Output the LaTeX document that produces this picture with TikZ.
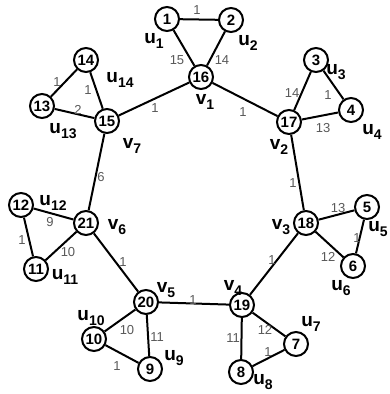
\documentclass[tikz,border=0pt]{standalone}
\usepackage{fontspec}
\setmainfont{Liberation Sans}
\newcommand\lbl[2]{#1\raisebox{-0.45ex}{\fontsize{14}{14}\selectfont #2}}
\begin{document}
\begin{tikzpicture}[x=1pt,y=-1pt,
  vtx/.style={circle,draw,fill=white,line width=2pt,minimum size=24pt,inner sep=0pt,font=\fontsize{15}{15}\selectfont\bfseries},
  edge/.style={line width=2pt},
  wt/.style={font=\fontsize{13}{13}\selectfont,text=black!65,inner sep=0pt},
  nm/.style={font=\fontsize{19}{19}\selectfont\bfseries,inner sep=0pt}]
\useasboundingbox (0,0) rectangle (390,394);
\fill[white] (0,0) rectangle (390,394);
% nodes
\node[vtx] (n1) at (167,19) {1};
\node[vtx] (n2) at (231,20) {2};
\node[vtx] (n16) at (201,77) {16};
\node[vtx] (n3) at (316,60) {3};
\node[vtx] (n4) at (351,110) {4};
\node[vtx] (n17) at (289,122) {17};
\node[vtx] (n14) at (86,60) {14};
\node[vtx] (n13) at (42,106) {13};
\node[vtx] (n15) at (107,121) {15};
\node[vtx] (n5) at (367,207) {5};
\node[vtx] (n18) at (306,223) {18};
\node[vtx] (n6) at (353,266) {6};
\node[vtx] (n12) at (21,205) {12};
\node[vtx] (n21) at (86,223) {21};
\node[vtx] (n11) at (36,269) {11};
\node[vtx] (n20) at (146,302) {20};
\node[vtx] (n10) at (94,339) {10};
\node[vtx] (n9) at (150,369) {9};
\node[vtx] (n19) at (242,305) {19};
\node[vtx] (n7) at (296,344) {7};
\node[vtx] (n8) at (241,372) {8};
% edges
\draw[edge] (n1)--(n2); \draw[edge] (n1)--(n16); \draw[edge] (n2)--(n16);
\draw[edge] (n3)--(n4); \draw[edge] (n3)--(n17); \draw[edge] (n4)--(n17);
\draw[edge] (n14)--(n13); \draw[edge] (n14)--(n15); \draw[edge] (n13)--(n15);
\draw[edge] (n5)--(n6); \draw[edge] (n5)--(n18); \draw[edge] (n6)--(n18);
\draw[edge] (n12)--(n11); \draw[edge] (n12)--(n21); \draw[edge] (n11)--(n21);
\draw[edge] (n10)--(n9); \draw[edge] (n10)--(n20); \draw[edge] (n9)--(n20);
\draw[edge] (n7)--(n8); \draw[edge] (n7)--(n19); \draw[edge] (n8)--(n19);
\draw[edge] (n16)--(n17); \draw[edge] (n17)--(n18); \draw[edge] (n18)--(n19);
\draw[edge] (n19)--(n20); \draw[edge] (n20)--(n21); \draw[edge] (n21)--(n15);
\draw[edge] (n15)--(n16);
% weights
\node[wt] (w1) at (197,10) {1};
\node[wt] (w2) at (177,60) {15};
\node[wt] (w3) at (222,60) {14};
\node[wt] (w4) at (155,108) {1};
\node[wt] (w5) at (243,112) {1};
\node[wt] (w6) at (292,93) {14};
\node[wt] (w7) at (328,95) {1};
\node[wt] (w8) at (323,128) {13};
\node[wt] (w9) at (57,82) {1};
\node[wt] (w10) at (88,90) {1};
\node[wt] (w11) at (78,110) {2};
\node[wt] (w12) at (101,177) {6};
\node[wt] (w13) at (293,183) {1};
\node[wt] (w14) at (338,208) {13};
\node[wt] (w15) at (357,238) {1};
\node[wt] (w16) at (328,257) {12};
\node[wt] (w17) at (50,222) {9};
\node[wt] (w18) at (22,240) {1};
\node[wt] (w19) at (68,252) {10};
\node[wt] (w20) at (123,262) {1};
\node[wt] (w21) at (127,330) {10};
\node[wt] (w22) at (157,337) {11};
\node[wt] (w23) at (117,366) {1};
\node[wt] (w24) at (193,300) {1};
\node[wt] (w25) at (272,260) {1};
\node[wt] (w26) at (265,330) {12};
\node[wt] (w27) at (233,338) {11};
\node[wt] (w28) at (268,352) {1};
% names
\node[nm] (l1) at (154,41) {\lbl{u}{1}};
\node[nm] (l2) at (248,43) {\lbl{u}{2}};
\node[nm] (l3) at (336,72) {\lbl{u}{3}};
\node[nm] (l4) at (372,132) {\lbl{u}{4}};
\node[nm] (l5) at (378,229) {\lbl{u}{5}};
\node[nm] (l6) at (341,288) {\lbl{u}{6}};
\node[nm] (l7) at (311,324) {\lbl{u}{7}};
\node[nm] (l8) at (263,382) {\lbl{u}{8}};
\node[nm] (l9) at (174,358) {\lbl{u}{9}};
\node[nm] (l10) at (91,318) {\lbl{u}{10}};
\node[nm] (l11) at (65,277) {\lbl{u}{11}};
\node[nm] (l12) at (53,203) {\lbl{u}{12}};
\node[nm] (l13) at (63,131) {\lbl{u}{13}};
\node[nm] (l14) at (120,80) {\lbl{u}{14}};
\node[nm] (v1) at (205,102) {\lbl{v}{1}};
\node[nm] (v2) at (279,147) {\lbl{v}{2}};
\node[nm] (v3) at (281,227) {\lbl{v}{3}};
\node[nm] (v4) at (233,288) {\lbl{v}{4}};
\node[nm] (v5) at (166,290) {\lbl{v}{5}};
\node[nm] (v6) at (117,227) {\lbl{v}{6}};
\node[nm] (v7) at (132,146) {\lbl{v}{7}};
\end{tikzpicture}
\end{document}
